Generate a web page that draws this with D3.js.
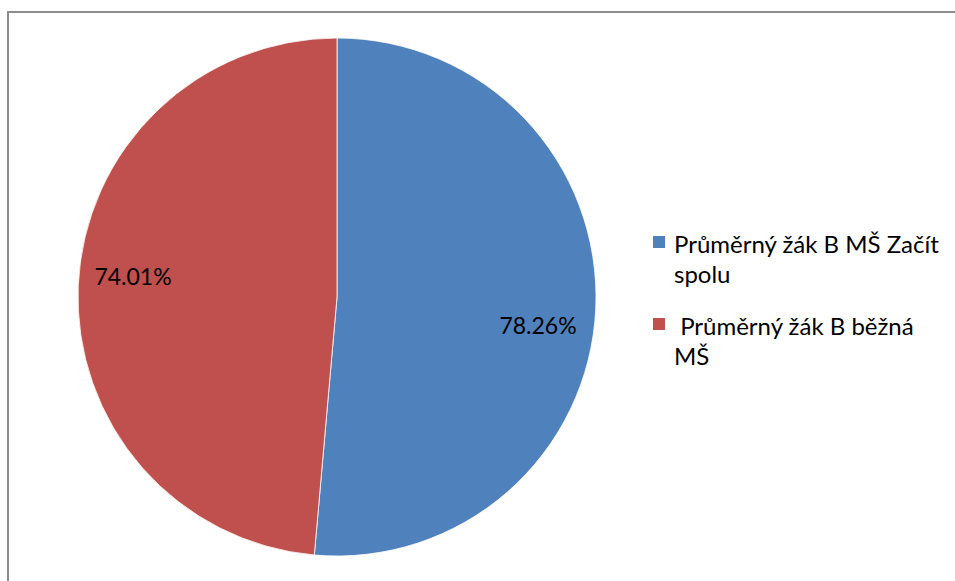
<!DOCTYPE html>
<html>
<head>
<meta charset="utf-8">
<script src="https://cdn.jsdelivr.net/npm/d3@7"></script>
<style>
  html, body { margin: 0; padding: 0; background: #fff; }
  svg { display: block; }
  text { font-family: Lato, "Open Sans", sans-serif; fill: #000; }
</style>
</head>
<body>
<svg id="chart" width="955" height="581"></svg>
<script>
/* ── data ─────────────────────────────────────────────── */
const categories = ['Průměrný žák B MŠ Začít spolu', ' Průměrný žák B běžná MŠ'];
const legendLines = [['Průměrný žák B MŠ Začít', 'spolu'], [' Průměrný žák B běžná', 'MŠ']];
const values = [78.26, 74.01];
const valueLabels = ['78.26%', '74.01%'];
const colors = ['#4F81BD', '#C0504D'];

/* ── layout ───────────────────────────────────────────── */
const W = 955, H = 581;
const cx = 337, cy = 297, r = 259;

const svg = d3.select('#chart');

// chart frame (runs off right/bottom edge)
svg.append('rect')
  .attr('x', 8).attr('y', 12)
  .attr('width', W + 10).attr('height', H + 10)
  .attr('fill', 'none')
  .attr('stroke', '#8c8c8c')
  .attr('stroke-width', 2);

const pie = d3.pie().sort(null).value(d => d);
const arcs = pie(values);
const arc = d3.arc().innerRadius(0).outerRadius(r);

const g = svg.append('g').attr('transform', `translate(${cx},${cy})`);

g.selectAll('path').data(arcs).join('path')
  .attr('d', arc)
  .attr('fill', (d, i) => colors[i])
  .attr('stroke', '#fff')
  .attr('stroke-width', 0.8);

// data labels (offsets)
const labelPos = [[201, 28], [-204, -21]];
g.selectAll('text.lbl').data(arcs).join('text')
  .attr('class', 'lbl')
  .attr('x', (d, i) => labelPos[i][0])
  .attr('y', (d, i) => labelPos[i][1])
  .attr('text-anchor', 'middle')
  .attr('dominant-baseline', 'central')
  .attr('font-size', 23)
  .text((d, i) => valueLabels[i]);

/* ── legend ───────────────────────────────────────────── */
const lg = svg.append('g').attr('transform', 'translate(653,236)');
const rowY = [0, 82];
categories.forEach((c, i) => {
  const row = lg.append('g').attr('transform', `translate(0,${rowY[i]})`);
  row.append('rect')
    .attr('width', 12).attr('height', 12)
    .attr('fill', colors[i]);
  const t = row.append('text')
    .attr('x', 21).attr('y', 17)
    .attr('font-size', 24)
    .attr('xml:space', 'preserve')
    .style('white-space', 'pre');
  legendLines[i].forEach((ln, j) => {
    t.append('tspan').attr('x', 21).attr('dy', j === 0 ? 0 : 30).text(ln);
  });
});
</script>
</body>
</html>
